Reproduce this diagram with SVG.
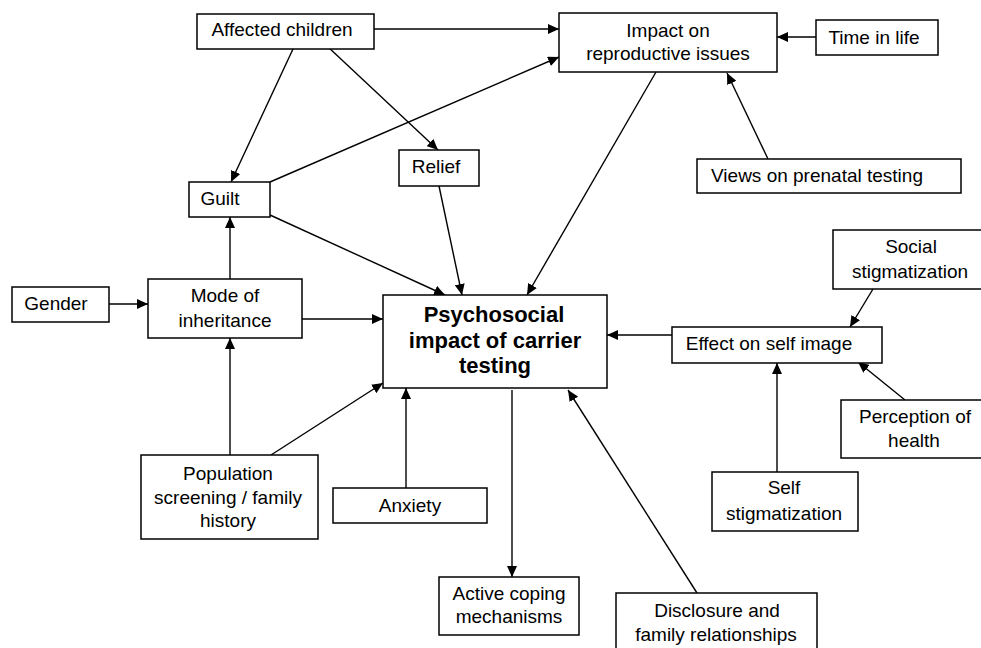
<svg xmlns="http://www.w3.org/2000/svg" width="981" height="648" viewBox="0 0 981 648">
<defs>
<marker id="ah" markerUnits="userSpaceOnUse" markerWidth="12" markerHeight="10" refX="11" refY="5" orient="auto">
<path d="M0,0 L11,5 L0,10 Z" fill="#000"/>
</marker>
<style>
.box{fill:#fff;stroke:#000;stroke-width:1.5}
.t{font-family:"Liberation Sans",Arial,sans-serif;font-size:19px;fill:#000;text-anchor:middle}
.b{font-family:"Liberation Sans",Arial,sans-serif;font-size:22px;font-weight:bold;fill:#000;text-anchor:middle}
.c{fill:none;stroke:#000;stroke-width:1.4;marker-end:url(#ah)}
.n{fill:none;stroke:#000;stroke-width:1.4}
</style>
</defs>
<rect width="981" height="648" fill="#fff"/>
<g id="connectors">
<line class="c" x1="374" y1="29" x2="559" y2="29"/>
<line class="c" x1="293" y1="49" x2="231" y2="182"/>
<line class="c" x1="327" y1="46" x2="438" y2="150"/>
<line class="c" x1="270" y1="182" x2="559" y2="57"/>
<line class="c" x1="816" y1="37" x2="777" y2="37"/>
<line class="c" x1="768" y1="159" x2="727" y2="73"/>
<line class="c" x1="656" y1="72" x2="527" y2="295"/>
<line class="c" x1="270" y1="215" x2="445" y2="295"/>
<line class="c" x1="439" y1="186" x2="462" y2="295"/>
<line class="c" x1="230" y1="279" x2="230" y2="217"/>
<line class="c" x1="109" y1="304" x2="148" y2="304"/>
<line class="c" x1="302" y1="319" x2="383" y2="319"/>
<line class="c" x1="230" y1="455" x2="230" y2="338"/>
<line class="c" x1="271" y1="455" x2="383" y2="383"/>
<line class="c" x1="406" y1="488" x2="406" y2="388"/>
<line class="c" x1="512" y1="390" x2="512" y2="577"/>
<line class="c" x1="697" y1="593" x2="568" y2="390"/>
<line class="c" x1="672" y1="335" x2="607" y2="335"/>
<line class="c" x1="873" y1="289" x2="850" y2="327"/>
<line class="c" x1="905" y1="400" x2="858" y2="362"/>
<line class="c" x1="777" y1="472" x2="777" y2="363"/>
</g>
<g id="affected-children">
<rect class="box" x="197" y="14" width="177" height="35"/>
<text class="t" x="282" y="36">Affected children</text>
</g>
<g id="impact-reproductive">
<rect class="box" x="559" y="13" width="218" height="59"/>
<text class="t" x="668" y="37">Impact on</text>
<text class="t" x="668" y="60">reproductive issues</text>
</g>
<g id="time-in-life">
<rect class="box" x="816" y="20" width="122" height="35"/>
<text class="t" x="874" y="44">Time in life</text>
</g>
<g id="views-prenatal">
<rect class="box" x="697" y="159" width="264" height="34"/>
<text class="t" x="817" y="182">Views on prenatal testing</text>
</g>
<g id="relief">
<rect class="box" x="399" y="150" width="80" height="36"/>
<text class="t" x="436" y="173">Relief</text>
</g>
<g id="guilt">
<rect class="box" x="189" y="182" width="81" height="35"/>
<text class="t" x="220" y="205">Guilt</text>
</g>
<g id="gender">
<rect class="box" x="12" y="287" width="97" height="35"/>
<text class="t" x="56" y="310">Gender</text>
</g>
<g id="mode-inheritance">
<rect class="box" x="148" y="279" width="154" height="59"/>
<text class="t" x="225" y="302">Mode of</text>
<text class="t" x="225" y="327">inheritance</text>
</g>
<g id="psychosocial">
<rect class="box" x="383" y="295" width="224" height="93"/>
<text class="b" x="494" y="322">Psychosocial</text>
<text class="b" x="495" y="348">impact of carrier</text>
<text class="b" x="495" y="373">testing</text>
</g>
<g id="effect-self-image">
<rect class="box" x="672" y="327" width="210" height="36"/>
<text class="t" x="769" y="350">Effect on self image</text>
</g>
<g id="social-stigmatization">
<rect class="box" x="833" y="230" width="155" height="59"/>
<text class="t" x="911" y="253">Social</text>
<text class="t" x="910" y="278">stigmatization</text>
</g>
<g id="perception-health">
<rect class="box" x="841" y="400" width="147" height="58"/>
<text class="t" x="915" y="423">Perception of</text>
<text class="t" x="914" y="447">health</text>
</g>
<g id="self-stigmatization">
<rect class="box" x="712" y="472" width="146" height="59"/>
<text class="t" x="784" y="494">Self</text>
<text class="t" x="784" y="520">stigmatization</text>
</g>
<g id="disclosure">
<rect class="box" x="616" y="593" width="201" height="62"/>
<text class="t" x="717" y="617">Disclosure and</text>
<text class="t" x="716" y="641">family relationships</text>
</g>
<g id="active-coping">
<rect class="box" x="439" y="577" width="140" height="58"/>
<text class="t" x="509" y="600">Active coping</text>
<text class="t" x="509" y="623">mechanisms</text>
</g>
<g id="population-screening">
<rect class="box" x="141" y="455" width="177" height="84"/>
<text class="t" x="228" y="480">Population</text>
<text class="t" x="228" y="504">screening / family</text>
<text class="t" x="228" y="527">history</text>
</g>
<g id="anxiety">
<rect class="box" x="333" y="488" width="154" height="35"/>
<text class="t" x="410" y="512">Anxiety</text>
</g>
</svg>
